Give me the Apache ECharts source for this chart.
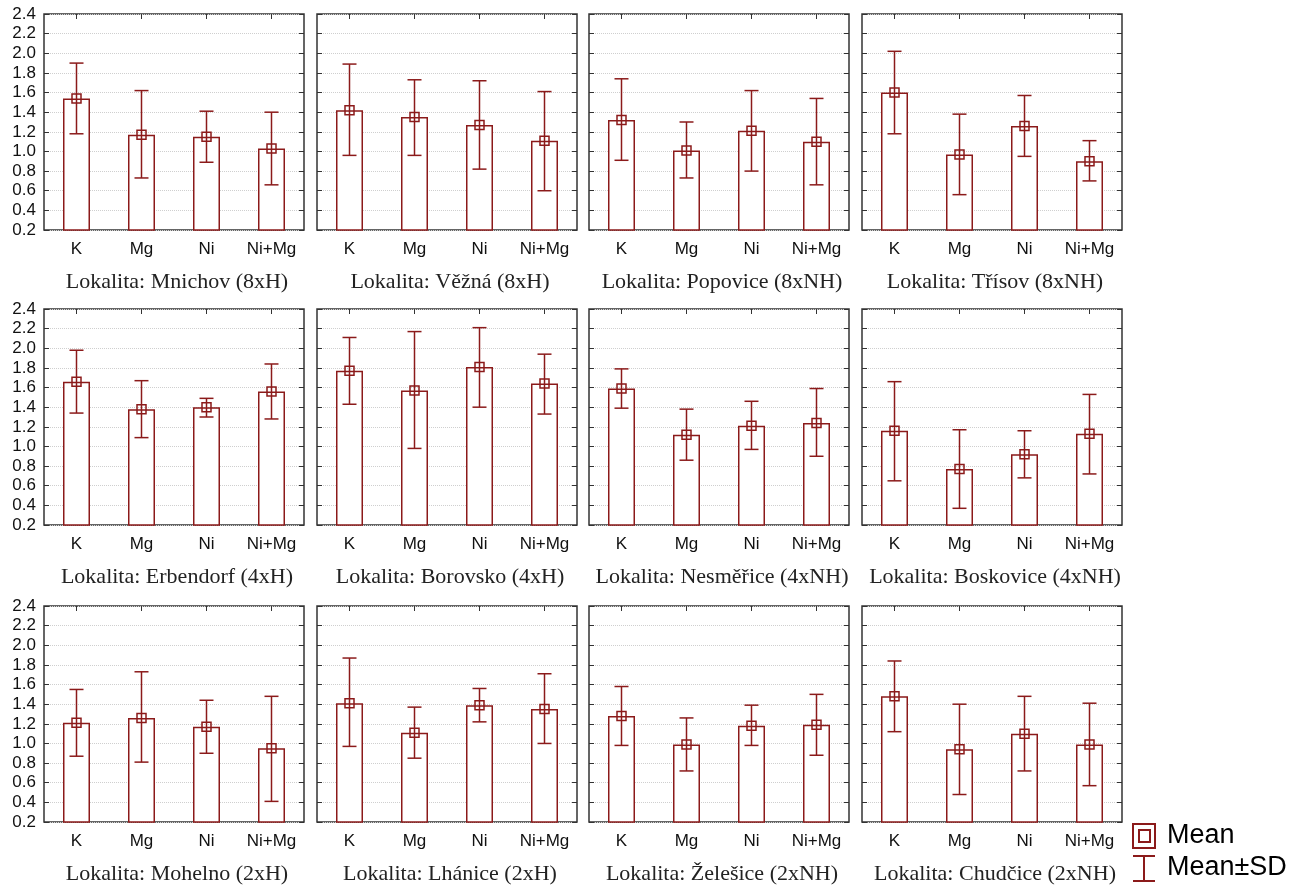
<!DOCTYPE html>
<html>
<head>
<meta charset="utf-8">
<script src="https://cdn.jsdelivr.net/npm/echarts@6/dist/echarts.min.js"></script>
<style>
  html, body { margin: 0; padding: 0; background: #fff; }
  #main { width: 1306px; height: 896px; }
</style>
</head>
<body>
<div id="main"></div>
<script>
// kategorie a popisky
var categories = ['K', 'Mg', 'Ni', 'Ni+Mg'];
var yTicks = [0.2, 2.4, 0.2]; // min, max, interval
var panelTitles = [
    'Lokalita: Mnichov (8xH)', 'Lokalita: Věžná (8xH)', 'Lokalita: Popovice (8xNH)', 'Lokalita: Třísov (8xNH)',
    'Lokalita: Erbendorf (4xH)', 'Lokalita: Borovsko (4xH)', 'Lokalita: Nesměřice (4xNH)', 'Lokalita: Boskovice (4xNH)',
    'Lokalita: Mohelno (2xH)', 'Lokalita: Lhánice (2xH)', 'Lokalita: Želešice (2xNH)', 'Lokalita: Chudčice (2xNH)'
];

// průměry (Mean)
var means = [
    [1.54, 1.17, 1.15, 1.03],
    [1.42, 1.35, 1.27, 1.11],
    [1.32, 1.01, 1.21, 1.10],
    [1.60, 0.97, 1.26, 0.90],
    [1.66, 1.38, 1.40, 1.56],
    [1.77, 1.57, 1.81, 1.64],
    [1.59, 1.12, 1.21, 1.24],
    [1.16, 0.77, 0.92, 1.13],
    [1.21, 1.26, 1.17, 0.95],
    [1.41, 1.11, 1.39, 1.35],
    [1.28, 0.99, 1.18, 1.19],
    [1.48, 0.94, 1.10, 0.99]
];
// Mean-SD
var lows = [
    [1.18, 0.73, 0.89, 0.66],
    [0.96, 0.96, 0.82, 0.60],
    [0.91, 0.73, 0.80, 0.66],
    [1.18, 0.56, 0.95, 0.70],
    [1.34, 1.09, 1.30, 1.28],
    [1.43, 0.98, 1.40, 1.33],
    [1.39, 0.86, 0.97, 0.90],
    [0.65, 0.37, 0.68, 0.72],
    [0.87, 0.81, 0.90, 0.41],
    [0.97, 0.85, 1.22, 1.00],
    [0.98, 0.72, 0.98, 0.88],
    [1.12, 0.48, 0.72, 0.57]
];
// Mean+SD
var highs = [
    [1.90, 1.62, 1.41, 1.40],
    [1.89, 1.73, 1.72, 1.61],
    [1.74, 1.30, 1.62, 1.54],
    [2.02, 1.38, 1.57, 1.11],
    [1.98, 1.67, 1.49, 1.84],
    [2.11, 2.17, 2.21, 1.94],
    [1.79, 1.38, 1.46, 1.59],
    [1.66, 1.17, 1.16, 1.53],
    [1.55, 1.73, 1.44, 1.48],
    [1.87, 1.37, 1.56, 1.71],
    [1.58, 1.26, 1.39, 1.50],
    [1.84, 1.40, 1.48, 1.41]
];

var RED = '#8b1a1a';
var colLeft = [44, 317, 589, 862];
var rowTop = [14, 309, 606];
var plotW = 260, plotH = 216;

// chybové úsečky + značka průměru
function renderErr(params, api) {
    var c = api.value(0);
    var pm = api.coord([c, api.value(1)]);
    var pl = api.coord([c, api.value(2)]);
    var ph = api.coord([c, api.value(3)]);
    var cap = 7, s = 4.5;
    var st = { stroke: RED, lineWidth: 1.5, fill: null };
    return {
        type: 'group',
        children: [
            { type: 'line', shape: { x1: pm[0], y1: ph[1], x2: pm[0], y2: pl[1] }, style: st },
            { type: 'line', shape: { x1: pm[0] - cap, y1: ph[1], x2: pm[0] + cap, y2: ph[1] }, style: st },
            { type: 'line', shape: { x1: pm[0] - cap, y1: pl[1], x2: pm[0] + cap, y2: pl[1] }, style: st },
            { type: 'rect', shape: { x: pm[0] - s, y: pm[1] - s, width: 2 * s, height: 2 * s }, style: st }
        ]
    };
}

var grids = [], xAxes = [], yAxes = [], series = [], titles = [];

for (var i = 0; i < 12; i++) {
    var r = Math.floor(i / 4), c = i % 4;
    grids.push({
        left: colLeft[c], top: rowTop[r], width: plotW, height: plotH,
        show: true, backgroundColor: '#fff', borderColor: '#333', borderWidth: 1.5
    });
    // spodní osa s popisky, horní jen se značkami
    xAxes.push({
        type: 'category', gridIndex: i, data: categories, position: 'bottom',
        axisLine: { show: false },
        axisTick: { show: true, inside: true, alignWithLabel: true, lineStyle: { color: '#333' } },
        axisLabel: { color: '#111', fontSize: 17, fontFamily: 'Liberation Sans', margin: 11 }
    });
    xAxes.push({
        type: 'category', gridIndex: i, data: categories, position: 'top',
        axisLine: { show: false },
        axisTick: { show: true, inside: true, alignWithLabel: true, lineStyle: { color: '#333' } },
        axisLabel: { show: false }
    });
    yAxes.push({
        type: 'value', gridIndex: i, position: 'left',
        min: yTicks[0], max: yTicks[1], interval: yTicks[2],
        axisLine: { show: false },
        axisTick: { show: true, inside: true, length: 5, lineStyle: { color: '#333' } },
        axisLabel: {
            show: c === 0, color: '#111', fontSize: 17, fontFamily: 'Liberation Sans', margin: 8,
            formatter: function (v) { return v.toFixed(1); }
        },
        splitLine: { show: true, lineStyle: { color: '#cfcfcf', type: 'dotted', width: 1 } }
    });
    yAxes.push({
        type: 'value', gridIndex: i, position: 'right',
        min: yTicks[0], max: yTicks[1], interval: yTicks[2],
        axisLine: { show: false },
        axisTick: { show: true, inside: true, length: 5, lineStyle: { color: '#333' } },
        axisLabel: { show: false },
        splitLine: { show: false }
    });

    series.push({
        type: 'bar', xAxisIndex: i * 2, yAxisIndex: i * 2,
        data: means[i], barWidth: 27, clip: true, silent: true,
        itemStyle: { color: '#fff', borderColor: RED, borderWidth: 1.5 }
    });
    var errData = [];
    for (var k = 0; k < categories.length; k++) {
        errData.push([k, means[i][k], lows[i][k], highs[i][k]]);
    }
    series.push({
        type: 'custom', xAxisIndex: i * 2, yAxisIndex: i * 2,
        data: errData, renderItem: renderErr, z: 5, silent: true,
        encode: { x: 0, y: 1 }
    });

    titles.push({
        text: panelTitles[i],
        left: colLeft[c] + plotW / 2 + 3, top: rowTop[r] + plotH + 41,
        textAlign: 'center', padding: 0,
        textStyle: { fontFamily: 'Liberation Serif', fontSize: 22, fontWeight: 'normal', color: '#222' }
    });
}

var chart = echarts.init(document.getElementById('main'), null, { renderer: 'canvas' });
chart.setOption({
    backgroundColor: '#fff',
    animation: false,
    title: titles,
    grid: grids,
    xAxis: xAxes,
    yAxis: yAxes,
    series: series,
    // legenda vpravo dole
    graphic: [
        { type: 'rect', shape: { x: 1133, y: 824, width: 22, height: 24 }, style: { fill: null, stroke: RED, lineWidth: 2 } },
        { type: 'rect', shape: { x: 1139, y: 830, width: 11, height: 12 }, style: { fill: null, stroke: RED, lineWidth: 2 } },
        { type: 'text', x: 1167, y: 836, style: { text: 'Mean', fill: '#000', font: '27px "Liberation Sans"', verticalAlign: 'middle' } },
        { type: 'line', shape: { x1: 1144, y1: 856, x2: 1144, y2: 881 }, style: { stroke: RED, lineWidth: 2 } },
        { type: 'line', shape: { x1: 1133, y1: 856, x2: 1155, y2: 856 }, style: { stroke: RED, lineWidth: 2 } },
        { type: 'line', shape: { x1: 1133, y1: 881, x2: 1155, y2: 881 }, style: { stroke: RED, lineWidth: 2 } },
        { type: 'text', x: 1167, y: 868, style: { text: 'Mean±SD', fill: '#000', font: '27px "Liberation Sans"', verticalAlign: 'middle' } }
    ]
});
</script>
</body>
</html>
